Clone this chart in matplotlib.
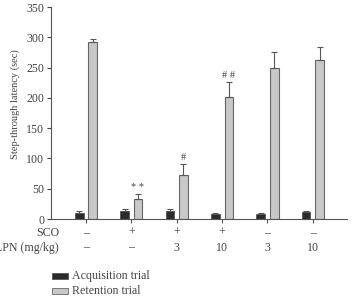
import matplotlib
matplotlib.use("Agg")
import matplotlib.pyplot as plt
import numpy as np
from matplotlib.patches import Rectangle

sco_labels = ["–", "+", "+", "+", "–", "–"]
lpn_labels = ["–", "–", "3", "10", "3", "10"]
acq_mean = [10, 13, 13, 9, 9, 11]
acq_err = [3, 3, 3, 1, 1, 1.5]
ret_mean = [293, 33, 72, 202, 249, 263]
ret_err = [5, 9, 19, 25, 27, 21]
sig_marks = ["", "* *", "#", "# #", "", ""]
yticks = [0, 50, 100, 150, 200, 250, 300, 350]

plt.rcParams['font.family'] = ['Liberation Serif', 'DejaVu Serif']
tc = '#444444'
fs = 8.6
fig = plt.figure(figsize=(3.54, 2.97), dpi=100)
ax = fig.add_axes([0.144, 0.2626, 0.836, 0.7138])
x = np.arange(len(acq_mean))
w = 0.19
off = 0.148
ax.bar(x - off, acq_mean, w, color='#2b2b2b', edgecolor='#555555', linewidth=0.6)
ax.errorbar(x - off, acq_mean, yerr=[np.zeros(6), acq_err], fmt='none', ecolor='#555555', elinewidth=0.8, capsize=2, capthick=0.8)
ax.bar(x + off, ret_mean, w, color='#c8c8c8', edgecolor='#666666', linewidth=0.8)
ax.errorbar(x + off, ret_mean, yerr=[np.zeros(6), ret_err], fmt='none', ecolor='#555555', elinewidth=0.8, capsize=2, capthick=0.8)
for i, m in enumerate(sig_marks):
    if m:
        ax.text(x[i] + off, ret_mean[i] + ret_err[i] + 3, m, ha='center', va='bottom', fontsize=7.5, color=tc)

ax.set_xlim(-0.77, 5.75)
ax.set_ylim(0, 350)
ax.set_yticks(yticks)
ax.set_xticks(x)
ax.set_xticklabels([])
ax.tick_params(axis='y', labelsize=fs, colors=tc, length=3, width=0.8, pad=2)
ax.tick_params(axis='x', length=3, width=0.8, colors='#555555', direction='out')
for s in ['top', 'right']:
    ax.spines[s].set_visible(False)
for s in ['left', 'bottom']:
    ax.spines[s].set_color('#555555')
    ax.spines[s].set_linewidth(0.8)
fig.text(15/354, 1 - 104/297, "Step-through latency (sec)", rotation=90, ha='center', va='center', fontsize=7.5, color=tc)

trans = ax.get_xaxis_transform()
for i in range(6):
    ax.text(x[i], -0.065, sco_labels[i], transform=trans, ha='center', va='center', fontsize=fs, color=tc)
    ax.text(x[i], -0.135, lpn_labels[i], transform=trans, ha='center', va='center', fontsize=fs, color=tc)
fig.text(59/354, 1 - 233/297, "SCO", ha='right', va='center', fontsize=fs, color=tc)
fig.text(59/354, 1 - 248/297, "LPN (mg/kg)", ha='right', va='center', fontsize=fs, color=tc)

for j, (lab, fc, ec) in enumerate([("Acquisition trial", '#2b2b2b', '#555555'), ("Retention trial", '#c8c8c8', '#666666')]):
    yc = 1 - (276 + j*15)/297
    fig.patches.append(Rectangle((52/354, yc - 3/297), 16/354, 6/297, transform=fig.transFigure, facecolor=fc, edgecolor=ec, linewidth=0.6))
    fig.text(72/354, yc, lab, ha='left', va='center', fontsize=fs, color=tc)

fig.savefig("out.png", dpi=100)
